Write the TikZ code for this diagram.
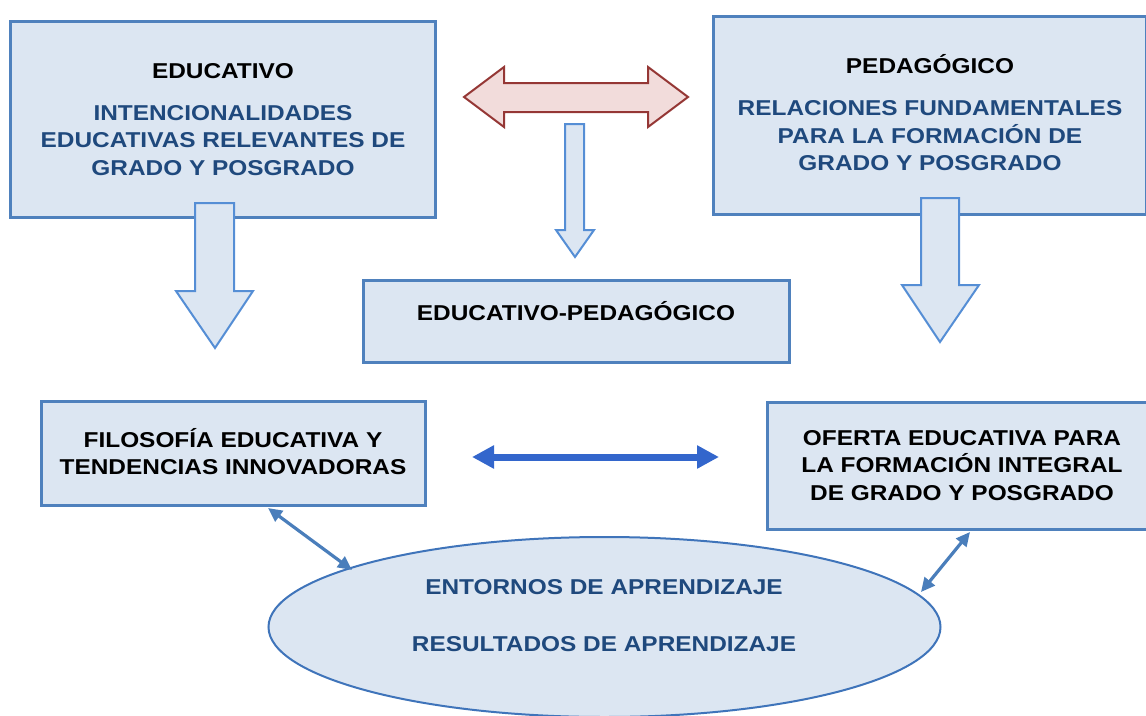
\documentclass[tikz,border=0pt]{standalone}
\usepackage{fontspec}
\setmainfont{Liberation Sans}[FakeStretch=1.135]
\usetikzlibrary{shapes.geometric,arrows.meta}
\definecolor{boxfill}{HTML}{DCE6F2}
\definecolor{boxline}{HTML}{4F81BD}
\definecolor{textblue}{HTML}{1F497D}
\definecolor{arrline}{HTML}{558ED5}
\definecolor{redfill}{HTML}{F2DCDB}
\definecolor{redline}{HTML}{953735}
\definecolor{dblblue}{HTML}{3366CC}
\definecolor{smallblue}{HTML}{4A7EBB}
\definecolor{ellline}{HTML}{3F74BA}
\begin{document}
\begin{tikzpicture}[x=1pt,y=-1pt,
  box/.style={draw=boxline, line width=3pt, fill=boxfill, inner sep=0pt, line join=miter},
  ell/.style={ellipse, draw=ellline, line width=2pt, fill=boxfill, inner sep=0pt},
  lbl/.style={font=\fontsize{21.5}{27.5}\selectfont\bfseries, align=center, inner sep=0pt, text=black},
  bluelbl/.style={lbl, text=textblue},
  downarr/.style={draw=arrline, line width=2pt, fill=boxfill, line join=miter},
  redarr/.style={draw=redline, line width=2pt, fill=redfill, line join=miter},
  bigdbl/.style={draw=dblblue, line width=7pt, {Triangle[length=22pt,width=22pt]}-{Triangle[length=22pt,width=22pt]}},
  smalldbl/.style={draw=smallblue, line width=3.2pt, {Triangle[length=14pt,width=13pt]}-{Triangle[length=14pt,width=13pt]}}
]
\useasboundingbox (0,0) rectangle (1146,715);
\clip (0,0) rectangle (1146,715);

% boxes
\node[box, minimum width=425pt, minimum height=196pt] (b1) at (223,119.5) {};
\node[box, minimum width=433pt, minimum height=198pt] (b2) at (930,115.5) {};
\node[box, minimum width=426pt, minimum height=82pt] (ep) at (576.5,321.5) {};
\node[box, minimum width=384pt, minimum height=104pt] (filo) at (233.5,453.5) {};
\node[box, minimum width=389pt, minimum height=127pt] (ofe) at (962,466) {};
\node[ell, minimum width=672pt, minimum height=180pt] (ent) at (604.5,627) {};

% texts
\node[lbl] (t1a) at (223,71) {EDUCATIVO};
\node[bluelbl] (t1b) at (223,140.5) {INTENCIONALIDADES\\EDUCATIVAS RELEVANTES DE\\GRADO Y POSGRADO};
\node[lbl] (t2a) at (930,64) {PEDAGÓGICO};
\node[bluelbl] (t2b) at (930,136) {RELACIONES FUNDAMENTALES\\PARA LA FORMACIÓN DE\\GRADO Y POSGRADO};
\node[lbl] (t3) at (576,311) {EDUCATIVO-PEDAGÓGICO};
\node[lbl] (t4) at (233,451.7) {FILOSOFÍA EDUCATIVA Y\\TENDENCIAS INNOVADORAS};
\node[lbl] (t5) at (962,465.5) {OFERTA EDUCATIVA PARA\\LA FORMACIÓN INTEGRAL\\DE GRADO Y POSGRADO};
\node[bluelbl] (t6) at (604,615.5) {ENTORNOS DE APRENDIZAJE\\[29.5pt]RESULTADOS DE APRENDIZAJE};

% block arrows
\draw[downarr] (195,203) -- (234,203) -- (234,291) -- (253,291) -- (215,348) -- (176,291) -- (195,291) -- cycle;
\draw[downarr] (921,198) -- (959,198) -- (959,285) -- (979,285) -- (940,342) -- (902,285) -- (921,285) -- cycle;
\draw[downarr] (565,124) -- (584,124) -- (584,230) -- (594,230) -- (575,257) -- (556,230) -- (565,230) -- cycle;
\draw[redarr] (464,97) -- (504,67) -- (504,83) -- (648,83) -- (648,67) -- (688,97) -- (648,127) -- (648,112) -- (504,112) -- (504,127) -- cycle;

% connectors
\coordinate (bl) at (472,457);
\coordinate (br) at (719,457);
\draw[bigdbl] (bl) -- (br);
\coordinate (la) at (268,508);
\coordinate (lb) at (352,570);
\draw[smalldbl] (la) -- (lb);
\coordinate (ra) at (970,532);
\coordinate (rb) at (921,592);
\draw[smalldbl] (ra) -- (rb);
\end{tikzpicture}
\end{document}
